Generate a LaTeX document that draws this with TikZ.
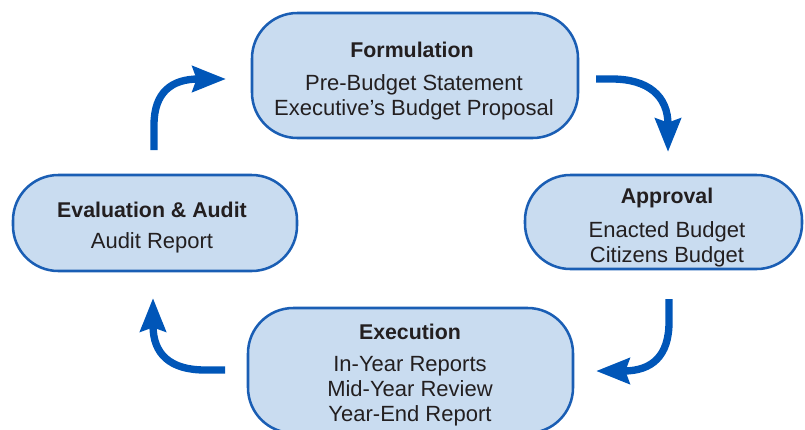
\documentclass[tikz,border=0pt]{standalone}
\usepackage{fontspec}
\setmainfont{Liberation Sans}
\usetikzlibrary{arrows.meta}
\definecolor{boxfill}{HTML}{C9DCF0}
\definecolor{boxline}{HTML}{1A5EB4}
\definecolor{arrowblue}{HTML}{0056B8}
\definecolor{txt}{HTML}{231F20}
\begin{document}
\begin{tikzpicture}[x=0.75pt,y=-0.75pt,
  stage/.style={draw=boxline, line width=1.9pt, fill=boxfill, rounded corners=34pt, inner sep=0pt},
  ttl/.style={text=txt, font=\fontsize{16}{18}\selectfont\bfseries, inner sep=0pt, anchor=base},
  body/.style={text=txt, font=\fontsize{16.5}{18.4}\selectfont, align=center, inner sep=0pt, anchor=base},
  flow/.style={draw=arrowblue, line width=5.5pt, -{Stealth[length=25pt,width=19pt,inset=3pt]}}]
\useasboundingbox (0,0) rectangle (805,429);
\clip (0,0) rectangle (805,429);

% stage boxes
\node[stage, minimum width=244.5pt, minimum height=93.75pt] (form) at (415,75.5) {};
\node[stage, minimum width=207.75pt, minimum height=70.5pt] (appr) at (663.5,222) {};
\node[stage, minimum width=243.75pt, minimum height=93.75pt] (exec) at (410.5,370.5) {};
\node[stage, minimum width=213pt, minimum height=72pt] (eval) at (155,223) {};

% texts (body nodes anchored at the baseline of their last line)
\node[ttl] (formT) at (412,57) {Formulation};
\node[body] (formB) at (414,115) {Pre-Budget Statement\\Executive’s Budget Proposal};

\node[ttl] (apprT) at (667,203) {Approval};
\node[body] (apprB) at (667,262) {Enacted Budget\\Citizens Budget};

\node[ttl] (execT) at (410,339) {Execution};
\node[body] (execB) at (410,421) {In-Year Reports\\Mid-Year Review\\Year-End Report};

\node[ttl] (evalT) at (152,217) {Evaluation \& Audit};
\node[body] (evalB) at (152,248) {Audit Report};

% arrow end points
\coordinate (a1s) at (154,150);
\coordinate (a1e) at (226,79);
\coordinate (a2s) at (596,79);
\coordinate (a2e) at (668,152);
\coordinate (a3s) at (669,299);
\coordinate (a3e) at (596,371);
\coordinate (a4s) at (225,370);
\coordinate (a4e) at (153,298);

\draw[flow] (a1s) -- (154,125) .. controls (154,92) and (172,79) .. (a1e);
\draw[flow] (a2s) -- (612,79) .. controls (648,79) and (668,96) .. (a2e);
\draw[flow] (a3s) -- (669,322) .. controls (669,356) and (652,371) .. (a3e);
\draw[flow] (a4s) -- (205,370) .. controls (170,370) and (153,354) .. (a4e);
\end{tikzpicture}
\end{document}
